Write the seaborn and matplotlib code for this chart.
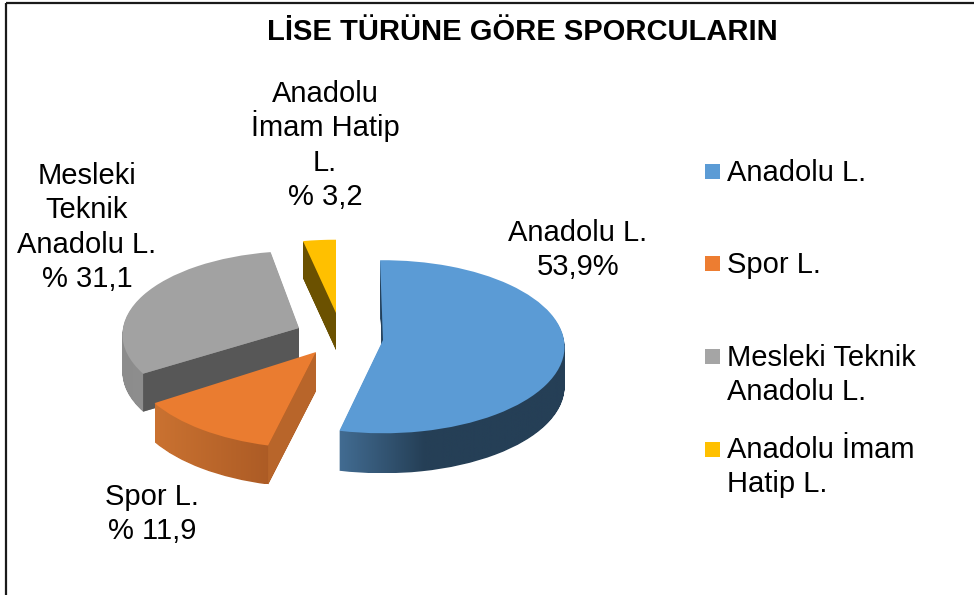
import numpy as np
import matplotlib
matplotlib.use("Agg")
import matplotlib.pyplot as plt
import seaborn as sns
from matplotlib.path import Path
from matplotlib.patches import Rectangle
from matplotlib.transforms import Transform
from matplotlib.colors import LinearSegmentedColormap

# ---- data ----
categories = ['Anadolu L.', 'Spor L.', 'Mesleki Teknik\nAnadolu L.', 'Anadolu İmam\nHatip L.']
shares = [53.9, 11.9, 31.1, 3.2]
data_labels = ['Anadolu L.\n53,9%', 'Spor L.\n% 11,9', 'Mesleki\nTeknik\nAnadolu L.\n% 31,1', 'Anadolu\nİmam Hatip\nL.\n% 3,2']
title = 'LİSE TÜRÜNE GÖRE SPORCULARIN'
legend_colors = ['#5B9BD5', '#ED7D31', '#A5A5A5', '#FFC000']

# ---- styles / layout (pixel space) ----
face_colors = ['#5B9BD5', '#EA7C30', '#A2A2A2', '#FFC000']
cut_colors = ['#24405A', '#B8652A', '#575757', '#6B5100']
side_ramps = [[(0, '#426C92'), (0.38, '#253F56'), (1, '#253F56')],
              [(0, '#CA7231'), (1, '#A05220')],
              [(0, '#8C8C8C'), (1, '#9C9C9C')],
              [(0, '#6B5100'), (1, '#6B5100')]]
slice_geom = [dict(cx=383, cy=340, rx=181, ry=86, depth=40, rot=1.0),
              dict(cx=316, cy=352, rx=185, ry=89, depth=39, rot=0.0),
              dict(cx=299, cy=328, rx=176, ry=83, depth=38, rot=-1.5),
              dict(cx=336, cy=313, rx=178, ry=79, depth=37, rot=0.0)]
draw_order = [3, 2, 1, 0]
persp = 0.078
line_step = 34.4
label_baselines = [(578, 241), (152, 505), (87, 184), (325, 102)]
legend_tops = [164, 256, 349, 442]
legend_baselines = [181, 273, 366, 458]

sns.set_theme(style='white')
plt.rcParams['font.family'] = ['Liberation Sans', 'DejaVu Sans']


class Persp(Transform):
    input_dims = 2
    output_dims = 2
    is_separable = False
    has_inverse = False

    def __init__(self, cx, cy, rx, ry, rot=0.0, depth=0, d=0):
        super().__init__()
        self.cx, self.cy, self.rx, self.ry, self.d = cx, cy, rx, ry, d
        self.c, self.s = np.cos(np.deg2rad(rot)), np.sin(np.deg2rad(rot))

    def transform_non_affine(self, values):
        v = np.asarray(values, dtype=float)
        u = self.c * v[:, 0] - self.s * v[:, 1]
        w = self.s * v[:, 0] + self.c * v[:, 1]
        k = 1 + persp * w
        return np.column_stack([self.cx + self.rx * u / k,
                                self.cy + self.d - self.ry * w / k])


fig = plt.figure(figsize=(9.74, 5.95), dpi=100, facecolor='white')
ax = fig.add_axes([0, 0, 1, 1])
wedges, _ = ax.pie(shares, startangle=90, counterclock=False, colors=face_colors,
                   wedgeprops=dict(linewidth=0))
ax.set_aspect('auto')
ax.axis('off')

for rank, i in enumerate(draw_order):
    w, g = wedges[i], slice_geom[i]
    base = w.get_path()
    # extruded body
    layers = [Persp(**g, d=d).transform_path(base) for d in range(1, g['depth'] + 1)]
    sweep = Path.make_compound_path(*layers)
    bx = sweep.get_extents()
    cmap = LinearSegmentedColormap.from_list(f's{i}', side_ramps[i])
    im = ax.imshow(np.linspace(0, 1, 256)[None, :], cmap=cmap, aspect='auto',
                   extent=[bx.x0, bx.x1, bx.y1, bx.y0], zorder=2 + rank * 3)
    im.set_clip_path(sweep, ax.transData)
    # visible radial cut face
    a = np.deg2rad(w.theta2)
    edge = np.array([[0, 0], [np.cos(a), np.sin(a)]])
    top = Persp(**g).transform(edge)
    bot = Persp(**g, d=g['depth']).transform(edge)
    ax.fill([top[0, 0], top[1, 0], bot[1, 0], bot[0, 0]],
            [top[0, 1], top[1, 1], bot[1, 1], bot[0, 1]],
            color=cut_colors[i], lw=0, zorder=3 + rank * 3)
    # top face
    w.set_transform(Persp(**g) + ax.transData)
    w.set_zorder(4 + rank * 3)
ax.set_xlim(0, 974)
ax.set_ylim(595, 0)

# frame
ax.add_patch(Rectangle((6, 3), 990, 620, fill=False, ec='#1a1a1a', lw=1.6, clip_on=False, zorder=30))

ax.text(522, 40, title, ha='center', va='baseline', fontsize=21, fontweight='bold', color='black', zorder=40)


def lines(x, y, txt, ha):
    for k, line in enumerate(txt.split('\n')):
        ax.text(x, y + k * line_step, line, ha=ha, va='baseline', fontsize=21, color='black', zorder=40)


for txt, (x, y) in zip(data_labels, label_baselines):
    lines(x, y, txt, 'center')

for name, c, t, by in zip(categories, legend_colors, legend_tops, legend_baselines):
    ax.add_patch(Rectangle((705, t), 15, 15, fc=c, ec='none', zorder=40))
    lines(727, by, name, 'left')

fig.savefig('out.png', dpi=100)
